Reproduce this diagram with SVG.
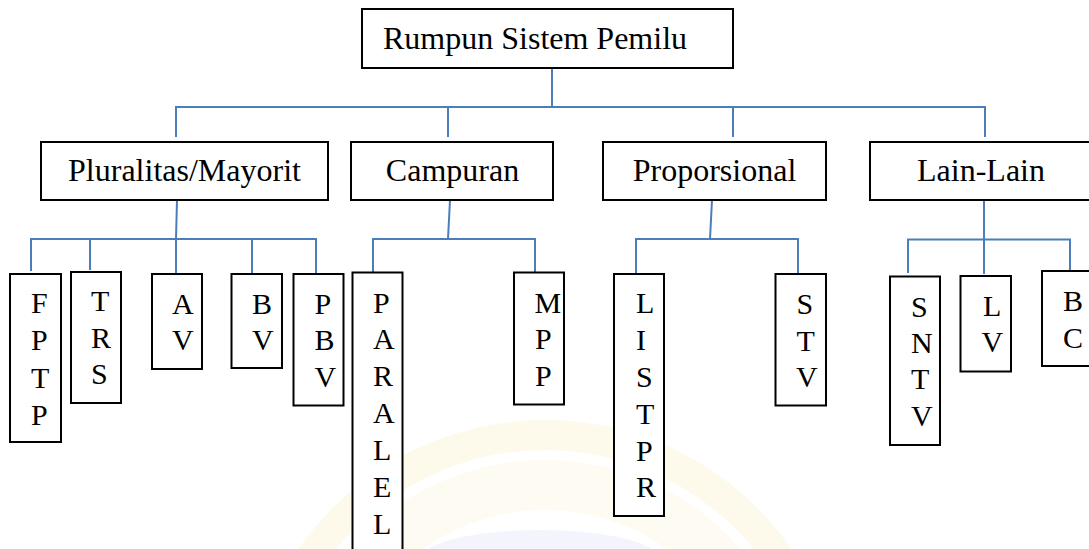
<svg xmlns="http://www.w3.org/2000/svg" width="1089" height="549" viewBox="0 0 1089 549">
<style>
.box{fill:#ffffff;stroke:#000000;stroke-width:2}
.lbl{font-family:"Liberation Serif","Times New Roman",serif;font-size:32px;fill:#000000}
.lf{font-family:"Liberation Serif","Times New Roman",serif;font-size:30px;fill:#000000}
.c{fill:none;stroke:#4a7ebb;stroke-width:2}
</style>
<rect width="1089" height="549" fill="#ffffff"/>
<g id="watermark" opacity="0.4">
<circle cx="545" cy="720" r="285" fill="none" stroke="#fbf1cf" stroke-width="30"/>
<circle cx="545" cy="720" r="235" fill="none" stroke="#fdf7e3" stroke-width="50"/>
<ellipse cx="540" cy="560" rx="120" ry="30" fill="#e4e6fa"/>
</g>
<g id="connectors">
<path class="c" d="M552,68 V107 M176,137 V107 H985 V137 M448,107 V137 M733,107 V137"/>
<path class="c" d="M177,200 L176,239 M31,271 V239 H316 V274 M90,239 V270 M176,239 V274 M252,239 V274"/>
<path class="c" d="M450,200 L448,239 M373,272 V239 H535 V272"/>
<path class="c" d="M712,200 L710,239 M636,273 V239 H798 V273"/>
<path class="c" d="M984,200 V274 M908,273 V239.5 H1070 V270" stroke-width="2.5"/>
</g>
<g id="root"><rect class="box" x="362" y="9" width="371" height="59"/><text class="lbl" x="383" y="49">Rumpun Sistem Pemilu</text></g>
<g id="pluralitas"><rect class="box" x="41" y="142" width="287" height="58"/><text class="lbl" x="184.5" y="181" text-anchor="middle">Pluralitas/Mayorit</text></g>
<g id="campuran"><rect class="box" x="351" y="142" width="202" height="58"/><text class="lbl" x="452.5" y="181" text-anchor="middle">Campuran</text></g>
<g id="proporsional"><rect class="box" x="603" y="142" width="223" height="58"/><text class="lbl" x="714.5" y="181" text-anchor="middle">Proporsional</text></g>
<g id="lainlain"><rect class="box" x="870" y="142" width="224" height="58"/><text class="lbl" x="981" y="181" text-anchor="middle">Lain-Lain</text></g>
<g id="fptp"><rect class="box" x="10" y="274" width="51" height="168"/><text class="lf"><tspan x="31" y="313">F</tspan><tspan x="31" y="350">P</tspan><tspan x="31" y="387.5">T</tspan><tspan x="31" y="424.5">P</tspan></text></g>
<g id="trs"><rect class="box" x="71" y="272" width="50" height="131"/><text class="lf"><tspan x="91" y="311">T</tspan><tspan x="91" y="347.5">R</tspan><tspan x="91" y="384">S</tspan></text></g>
<g id="av"><rect class="box" x="152" y="274" width="50" height="95"/><text class="lf"><tspan x="172" y="314">A</tspan><tspan x="172" y="350">V</tspan></text></g>
<g id="bv"><rect class="box" x="231.5" y="274" width="50.5" height="94"/><text class="lf"><tspan x="252" y="314">B</tspan><tspan x="252" y="350">V</tspan></text></g>
<g id="pbv"><rect class="box" x="293.5" y="274" width="50" height="131.5"/><text class="lf"><tspan x="314.5" y="314">P</tspan><tspan x="314.5" y="350">B</tspan><tspan x="314.5" y="386.5">V</tspan></text></g>
<g id="paralel"><rect class="box" x="352.5" y="272.5" width="50" height="290"/><text class="lf"><tspan x="373" y="312.5">P</tspan><tspan x="373" y="349">A</tspan><tspan x="373" y="386">R</tspan><tspan x="373" y="423">A</tspan><tspan x="373" y="460">L</tspan><tspan x="373" y="497">E</tspan><tspan x="373" y="533.5">L</tspan></text></g>
<g id="mpp"><rect class="box" x="514" y="272.5" width="50" height="132"/><text class="lf"><tspan x="534.5" y="312.5">M</tspan><tspan x="535" y="349">P</tspan><tspan x="535" y="386">P</tspan></text></g>
<g id="listpr"><rect class="box" x="614" y="274" width="50" height="242"/><text class="lf"><tspan x="636" y="313">L</tspan><tspan x="636" y="350">I</tspan><tspan x="636" y="387">S</tspan><tspan x="636" y="424">T</tspan><tspan x="636" y="460.5">P</tspan><tspan x="636" y="497">R</tspan></text></g>
<g id="stv"><rect class="box" x="775.5" y="274" width="50.5" height="131.5"/><text class="lf"><tspan x="796.5" y="314">S</tspan><tspan x="796.5" y="350.5">T</tspan><tspan x="796" y="387">V</tspan></text></g>
<g id="sntv"><rect class="box" x="890" y="276.5" width="50" height="168.5"/><text class="lf"><tspan x="911" y="316.5">S</tspan><tspan x="911" y="352.5">N</tspan><tspan x="911" y="389">T</tspan><tspan x="911" y="426">V</tspan></text></g>
<g id="lv"><rect class="box" x="960.5" y="276" width="50.5" height="95.5"/><text class="lf"><tspan x="983" y="316">L</tspan><tspan x="981.5" y="351.5">V</tspan></text></g>
<g id="bc"><rect class="box" x="1042" y="271" width="52" height="95"/><text class="lf"><tspan x="1063" y="311">B</tspan><tspan x="1063" y="347.5">C</tspan></text></g>
</svg>
